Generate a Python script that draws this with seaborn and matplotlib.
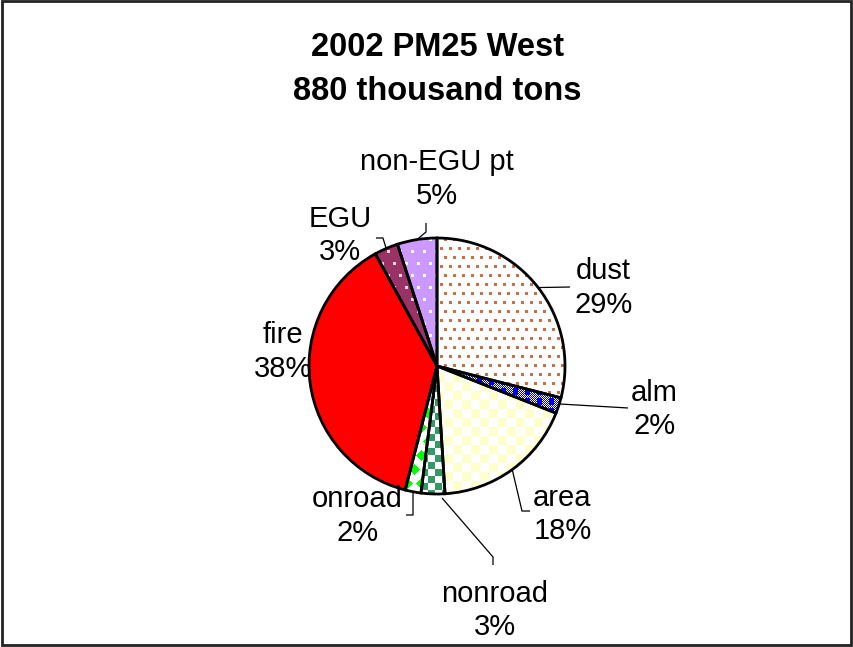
import numpy as np
import matplotlib
matplotlib.use("Agg")
import matplotlib.pyplot as plt
import seaborn as sns

# Source categories and their share of emissions (percent)
categories = ["dust", "alm", "area", "nonroad", "onroad", "fire", "EGU", "non-EGU pt"]
shares = [29, 2, 18, 3, 2, 38, 3, 5]
pct_labels = ["29%", "2%", "18%", "3%", "2%", "38%", "3%", "5%"]
title_lines = ["2002 PM25 West", "880 thousand tons"]

sns.set_theme(style="white")
plt.rcParams['font.family'] = ['Liberation Sans', 'DejaVu Sans']
plt.rcParams['text.color'] = 'black'

fig = plt.figure(figsize=(8.54, 6.47), dpi=100)
ax = fig.add_axes([0, 0, 1, 1])

wedges, _ = ax.pie(shares, startangle=90, counterclock=False, radius=1.0,
                   colors=["white"] * len(shares),
                   wedgeprops=dict(edgecolor="black", linewidth=2))


# fill textures (roughly the old Excel patterns)
def hexrgb(c):
    return np.array(matplotlib.colors.to_rgb(c))


N = 256
ii, jj = np.mgrid[0:N, 0:N]


def dots(bg, fg, step, size):
    img = np.tile(hexrgb(bg), (N, N, 1))
    row = ii // step
    m = (ii % step < size) & (((jj + (row % 2) * (step // 2)) % step) < size)
    img[m] = hexrgb(fg)
    return img


def checker(c1, c2, cell):
    img = np.tile(hexrgb(c2), (N, N, 1))
    m = ((ii // cell + jj // cell) % 2) == 1
    img[m] = hexrgb(c1)
    return img


def diamonds(bg, fg, step, half):
    img = np.tile(hexrgb(bg), (N, N, 1))
    row = ii // step
    di = (ii % step) - step // 2
    dj = ((jj + (row % 2) * (step // 2)) % step) - step // 2
    img[np.abs(di) + np.abs(dj) < half] = hexrgb(fg)
    return img


def alm_tex():
    img = np.tile(hexrgb("white"), (N, N, 1))
    img[((ii + jj) % 2) == 0] = hexrgb("#0000ff")
    img[(jj % 12 < 5) & (ii % 10 < 7)] = hexrgb("#0000ff")
    return img


textures = {
    "dust": dots("white", "#c8704a", 9, 3),
    "alm": alm_tex(),
    "area": checker("#ffffcc", "white", 9),
    "nonroad": checker("#339966", "white", 7),
    "onroad": diamonds("white", "#00ff00", 14, 6),
    "fire": np.tile(hexrgb("#ff0000"), (N, N, 1)),
    "EGU": dots("#993366", "#f0d0e0", 12, 3),
    "non-EGU pt": dots("#cc99ff", "white", 12, 3),
}

for w, cat in zip(wedges, categories):
    im = ax.imshow(textures[cat], extent=(-1, 1, -1, 1), interpolation="nearest",
                   zorder=1.5)
    im.set_clip_path(w)
    w.set_facecolor("none")
    w.set_zorder(3)

# label placement (radius units) and leader line bends
label_pos = {
    "dust": (1.30, 0.61), "alm": (1.70, -0.34), "area": (0.98, -1.16),
    "nonroad": (0.45, -1.91), "onroad": (-0.62, -1.17), "fire": (-1.20, 0.11),
    "EGU": (-0.76, 1.02), "non-EGU pt": (0.0, 1.46),
}
leaders = {
    "dust": [(1.039, 0.617)],
    "alm": [(1.492, -0.328)],
    "area": [(0.664, -1.133), (0.727, -1.133)],
    "nonroad": [(0.4375, -1.492), (0.4375, -1.555)],
    "onroad": [(-0.1875, -1.164), (-0.242, -1.164)],
    "EGU": [(-0.422, 1.0), (-0.477, 1.0)],
    "non-EGU pt": [(-0.086, 1.047), (-0.086, 1.117)],
}
starts = {"nonroad": (0.039, -1.031), "alm": (0.961, -0.297)}

for w, cat, pl in zip(wedges, categories, pct_labels):
    x, y = label_pos[cat]
    ax.text(x, y, f"{cat}\n{pl}", ha="center", va="center", fontsize=21,
            color="black", linespacing=1.25, zorder=5)
    if cat in leaders:
        mid = np.deg2rad((w.theta1 + w.theta2) / 2)
        p0 = starts.get(cat, (np.cos(mid), np.sin(mid)))
        pts = [p0] + leaders[cat]
        ax.plot([p[0] for p in pts], [p[1] for p in pts], color="black",
                lw=0.9, zorder=4, solid_capstyle="butt")

ax.set_xlim(-437 / 128, (854 - 437) / 128)
ax.set_ylim((366 - 647) / 128, 366 / 128)
ax.set_aspect("auto")
ax.axis("off")

fig.text(0.512, 0.926, title_lines[0], ha="center", va="center",
         fontsize=23.5, fontweight="bold", color="black")
fig.text(0.512, 0.859, title_lines[1], ha="center", va="center",
         fontsize=23.5, fontweight="bold", color="black")

fig.add_artist(plt.Rectangle((0.0018, 0.0031), 0.9947, 0.9946,
                             transform=fig.transFigure, fill=False,
                             lw=2, edgecolor="#222222"))

fig.savefig("out.png", dpi=100)
